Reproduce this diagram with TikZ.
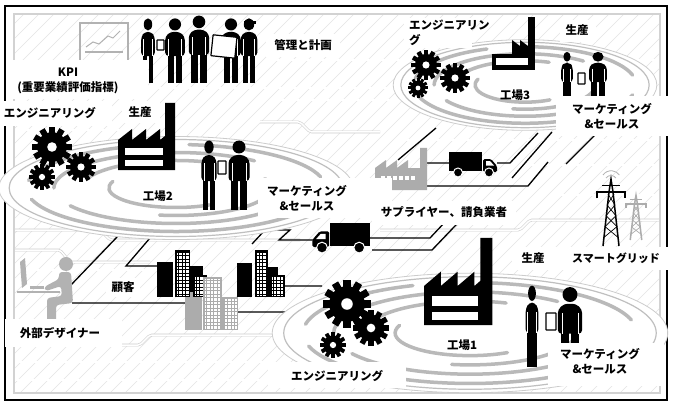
\documentclass[tikz,border=0pt]{standalone}
\usepackage{fontspec}
\setmainfont{Noto Sans CJK JP}

\begin{document}
\begin{tikzpicture}[x=1pt, y=-1pt,
  txt/.style={font=\bfseries\fontsize{11.5}{15}\selectfont, inner sep=0pt, align=center},
  hatch/.style={gray!22, line width=0.5},
  trace/.style={draw=gray!40, line width=0.6, double=white, double distance=1.5, rounded corners=2},
  wire/.style={line width=1.3},
  ring/.style={gray!55, line width=3.5, line cap=round},
  pad/.style={fill=white},
  tablet/.style={fill=white, draw=black, line width=1.2, rounded corners=0.5},
  % plant area: white oval with gray swirl bands
  swirl/.pic={
    \fill[white] (0,0) circle (1.03);
    \draw[gray!40, line width=0.8] (0,0) circle (1.03);
    \draw[gray!50, line width=1.2] (0,0) circle (0.97);
    \draw[ring] (15:0.87) arc[start angle=15, end angle=165, radius=0.87];
    \draw[ring] (190:0.87) arc[start angle=190, end angle=250, radius=0.87];
    \draw[ring] (275:0.87) arc[start angle=275, end angle=345, radius=0.87];
    \draw[ring] (35:0.71) arc[start angle=35, end angle=150, radius=0.71];
    \draw[ring] (180:0.71) arc[start angle=180, end angle=310, radius=0.71];
    \draw[ring] (340:0.55) arc[start angle=340, end angle=460, radius=0.55];
    \draw[ring] (200:0.55) arc[start angle=200, end angle=290, radius=0.55];
    \draw[ring] (60:0.39) arc[start angle=60, end angle=200, radius=0.39];
  },
  gear/.pic={
    \fill (0,0) circle (0.74);
    \foreach \a in {0,30,...,330}
      \fill[rotate=\a] (-0.15,0) rectangle (0.15,1);
    \fill[white] (0,0) circle (0.24);
  },
  person/.pic={
    \fill (0,-63) circle (6.5);
    \fill[rounded corners=3.5] (-10.5,-29) -- (-10.5,-50) -- (-5,-55) -- (5,-55)
      -- (10.5,-50) -- (10.5,-29) -- cycle;
    \fill (-8,-30) rectangle (-0.8,0);
    \fill (0.8,-30) rectangle (8,0);
    \draw[white, line width=0.8] (-7,-47) -- (-7,-29) (7,-47) -- (7,-29);
  },
  factory/.pic={
    \fill (0,0) -- (0,-30) -- (14,-41) -- (14,-30) -- (28,-41) -- (28,-30)
      -- (42,-41) -- (42,-30) -- (47,-34) -- (47,-67) -- (57,-67) -- (57,0) -- cycle;
    \fill[white] (7,-22) rectangle (45,-15);
    \fill[white] (7,-10) rectangle (45,-4);
  },
  truck/.pic={
    \fill (0,-25) rectangle (33,-6);
    \fill[rounded corners=1.5] (34,-18) -- (42,-18) -- (48,-11) -- (48,-5) -- (34,-5) -- cycle;
    \fill[white] (37,-16) -- (41,-16) -- (45,-11.5) -- (37,-11.5) -- cycle;
    \filldraw[draw=white, line width=1] (9,-4.5) circle (4.5) (40,-4.5) circle (4.5);
  },
  tower/.pic={
    \draw[line width=1.5] (-8,0) -- (-2,-50) -- (0,-62) -- (2,-50) -- (8,0);
    \draw[line width=0.7] (-7,-8) -- (6,-18) -- (-5,-28) -- (4,-38) -- (-3,-48);
    \draw[line width=0.7] (7,-8) -- (-6,-18) -- (5,-28) -- (-4,-38) -- (3,-48);
    \draw[line width=1.5] (-14,-44) -- (-14,-50) -- (14,-50) -- (14,-44);
    \draw[line width=1.2] (-9,-56) -- (9,-56);
  }]

\useasboundingbox (0,0) rectangle (673,404);
\fill[white] (0,0) rectangle (673,404);

% circuit board ground
\begin{scope}
  \clip (14,14) rectangle (660,393);
  \foreach \k in {0,...,72}
    \draw[hatch] (\k*15-400,393) -- ++(400,-400);
\end{scope}
\draw[trace] (14,230) -- (100,230) -- (110,240) -- (300,240);
\draw[trace] (14,250) -- (60,250) -- (70,262) -- (150,262);
\draw[trace] (14,270) -- (160,270);
\draw[trace] (14,345) -- (140,345) -- (150,335) -- (280,335);
\draw[trace] (14,362) -- (270,362);
\draw[trace] (14,380) -- (300,380);
\draw[trace] (400,140) -- (660,140);
\draw[trace] (380,230) -- (520,230) -- (530,220) -- (660,220);
\draw[trace] (520,165) -- (660,165);
\draw[trace] (560,195) -- (660,195);
\draw[trace] (270,100) -- (400,100);
\draw[trace] (260,122) -- (300,122) -- (310,132) -- (380,132);
\draw[trace] (270,60) -- (410,60);
\draw[trace] (150,88) -- (400,88);
\draw[trace] (14,130) -- (120,130);
\draw[trace] (600,60) -- (660,60);

% frames
\draw[gray!35, line width=2] (14,14) rectangle (660,393);
\draw[line width=1.2] (5,6) rectangle (667,400);

% links between the sites
\draw[wire]
  (70,286) -- (118,236)
  (72,303) -- (186,303)
  (150,238) -- (126,266) -- (158,266)
  (238,312) -- (300,312)
  (285,286) -- (322,286)
  (252,244) -- (265,230) -- (290,230) -- (279,240) -- (313,240)
  (370,238) -- (430,238) -- (462,204)
  (372,250) -- (432,250) -- (476,204)
  (362,188) -- (375,188)
  (427,163) -- (449,163)
  (497,163) -- (510,163) -- (538,133)
  (426,186) -- (528,186) -- (548,162)
  (436,128) -- (398,160)
  (552,132) -- (512,178)
  (598,132) -- (566,164);

% plants
\pic[xscale=172, yscale=50] at (176,188) {swirl};
\pic[xscale=128, yscale=44] at (525,85) {swirl};
\pic[xscale=192, yscale=58] at (470,333) {swirl};

% management
\draw[gray!60, line width=1.5] (80,23) rectangle (128,62);
\draw[gray!60, line width=1] (86,47) -- (93,42) -- (99,44) -- (108,36) -- (113,38) -- (120,31);
\draw[gray!60, line width=1.5] (85,52) -- (123,52);
\pic[xscale=0.65, yscale=0.93] at (148,83) {person};
\pic[scale=0.93] at (175,83) {person};
\pic[scale=0.97] at (199,83) {person};
\pic[scale=0.93] at (231,83) {person};
\pic[xscale=0.8, yscale=0.93] at (249,83) {person};
\fill (244,24) rectangle (256,21);
\draw[tablet] (157,40) rectangle (164,50);
\draw[tablet, rotate around={-6:(224,46)}] (212,36) rectangle (236,57);

% plant 2
\pic[scale=20] at (52,147) {gear};
\pic[scale=15] at (81,167) {gear};
\pic[scale=13] at (42,177) {gear};
\pic at (118,170) {factory};
\pic[xscale=0.72] at (209,210) {person};
\pic at (239,210) {person};
\draw[tablet] (218,161) rectangle (226,174);

% plant 3
\pic[scale=15] at (426,65) {gear};
\pic[scale=15] at (455,78) {gear};
\pic[scale=10] at (418,88) {gear};
\fill (528,17) rectangle (535,70);
\fill (512,40) -- (520,46) -- (520,40) -- (528,46) -- (528,56) -- (512,56) -- cycle;
\fill (492,54) rectangle (535,70);
\fill[white] (496,58) rectangle (528,65);
\pic[xscale=0.55, yscale=0.75] at (567,104) {person};
\pic[xscale=0.85, yscale=0.75] at (598,104) {person};
\draw[tablet] (578,73) rectangle (585,84);

% plant 1
\pic[scale=24] at (347,304) {gear};
\pic[scale=18] at (371,328) {gear};
\pic[scale=13] at (333,345) {gear};
\pic[xscale=1.2, yscale=1.3] at (424,325) {factory};
\pic[xscale=0.6, yscale=1.17] at (532,367) {person};
\pic[scale=1.15] at (570,367) {person};
\draw[tablet] (546,313) rectangle (556,330);

% suppliers
\fill[gray!65] (375,190) -- (375,168) -- (386,160) -- (386,168) -- (397,160) -- (397,168)
  -- (408,160) -- (408,168) -- (420,168) -- (420,148) -- (427,148) -- (427,190) -- cycle;
\foreach \i in {0,...,5}
  \fill[white] (381+\i*6,176) rectangle ++(3.5,3.5);
\pic at (449,177) {truck};
\pic[xscale=-1.2, yscale=1.2] at (370,253) {truck};

% smart grid
\pic[yscale=1.08] at (611,246) {tower};
\begin{scope}[gray!65]
  \pic[scale=0.72] at (636,240) {tower};
\end{scope}
\draw[gray!60, line width=0.8] (606,178) arc[start angle=215, end angle=325, radius=6];
\draw[gray!60, line width=0.8] (603,175) arc[start angle=215, end angle=325, radius=10];

% customers
\foreach \xa/\ya/\xb/\yb in {157/262/173/297, 190/266/203/297, 237/263/252/297, 268/267/278/297}
  \fill (\xa,\ya) rectangle (\xb,\yb);
\fill[gray!65] (185,292) rectangle (202,330);
\foreach \xa/\ya/\xb/\yb/\c in {175/250/190/297/black, 193/275/207/297/black,
    255/250/268/297/black, 270/275/285/297/black,
    203/277/222/330/gray!65, 222/297/238/330/gray!65} {
  \fill[\c] (\xa,\ya) rectangle (\xb,\yb);
  \fill[white] (\xa+1.5,\ya+1.5) rectangle (\xb-1.5,\yb-1.5);
  \draw[\c, line width=0.8, step=3.5pt] (\xa+1.5,\yb-1.5) grid (\xb-1.5,\ya+1.5);
}

% outside designer
\fill[gray!60] (66,264) circle (7);
\fill[gray!60, rounded corners=3] (59,272) -- (71,272) -- (73,303) -- (56,305) -- (56,332)
  -- (47,332) -- (47,298) -- (62,296) -- (61,286) -- (46,291) -- (44,287) -- (59,279) -- cycle;
\fill[gray!60] (20,262) -- (25,258) -- (27,284) -- (22,288) -- cycle;
\fill[gray!60] (30,286) rectangle (44,289);
\draw[gray!60, line width=2] (17,292) -- (60,292);

% label pads
\foreach \xa/\ya/\xb/\yb in {8/60/148/99, 0/101/112/126, 122/101/160/123, 266/34/340/57,
    258/178/392/218, 404/18/472/48, 560/20/596/42, 556/96/668/136, 372/201/516/225,
    512/247/668/270, 548/343/664/386, 268/362/406/388, 106/278/140/297, 5/319/122/347}
  \fill[pad] (\xa,\ya) rectangle (\xb,\yb);

% labels
\node[txt] (mgmt) at (303,45) {管理と計画};
\node[txt] (kpi) at (68,72) {KPI};
\node[txt] (kpidef) at (68,88) {(重要業績評価指標)};
\node[txt] (eng2) at (50,113) {エンジニアリング};
\node[txt] (prod2) at (140,112) {生産};
\node[txt] (fac2) at (158,196) {工場2};
\node[txt] (mkt2) at (307,198) {マーケティング\\\&セールス};
\node[txt, anchor=north west, align=left] (eng3) at (409,20) {エンジニアリン\\グ};
\node[txt] (prod3) at (577,30) {生産};
\node[txt] (fac3) at (515,95) {工場3};
\node[txt] (mkt3) at (612,116) {マーケティング\\\&セールス};
\node[txt] (sup) at (444,212) {サプライヤー、請負業者};
\node[txt] (prod1) at (533,258) {生産};
\node[txt, anchor=west, font=\bfseries\fontsize{11}{14}\selectfont] (smart) at (572,258) {スマートグリッド};
\node[txt] (fac1) at (462,345) {工場1};
\node[txt] (mkt1) at (600,361) {マーケティング\\\&セールス};
\node[txt] (eng1) at (337,376) {エンジニアリング};
\node[txt] (cust) at (123,287) {顧客};
\node[txt] (dsg) at (60,333) {外部デザイナー};
\end{tikzpicture}
\end{document}
